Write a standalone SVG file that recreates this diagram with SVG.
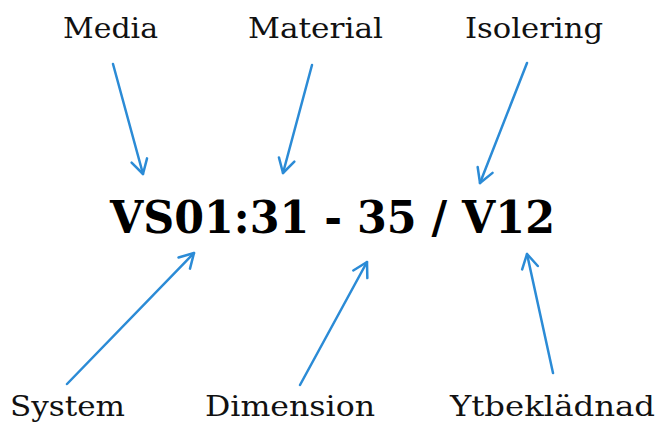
<svg xmlns="http://www.w3.org/2000/svg" width="660" height="426" viewBox="0 0 660 426">
<defs>
<marker id="ah" viewBox="0 0 20 20" refX="18" refY="10" markerWidth="20" markerHeight="20" markerUnits="userSpaceOnUse" orient="auto">
<path d="M4,2 L18,10 L4,18" fill="none" stroke="#2b8bd6" stroke-width="2.5" stroke-linecap="round" stroke-linejoin="round"/>
</marker>
<style>
.lbl{font-family:"DejaVu Serif","Liberation Serif",serif;font-size:28px;fill:#111}
.main{font-family:"DejaVu Serif","Liberation Serif",serif;font-size:44px;font-weight:bold;fill:#000}
.arr{stroke:#2b8bd6;stroke-width:2.5;fill:none;stroke-linecap:round;marker-end:url(#ah)}
</style>
</defs>
<rect width="660" height="426" fill="#fff"/>
<g id="code"><text class="main" x="110" y="233" textLength="445" lengthAdjust="spacingAndGlyphs">VS01:31 - 35 / V12</text></g>
<g id="media"><text class="lbl" x="63" y="38" textLength="95" lengthAdjust="spacingAndGlyphs">Media</text></g>
<g id="material"><text class="lbl" x="248" y="38" textLength="135" lengthAdjust="spacingAndGlyphs">Material</text></g>
<g id="isolering"><text class="lbl" x="465" y="38" textLength="138" lengthAdjust="spacingAndGlyphs">Isolering</text></g>
<g id="system"><text class="lbl" x="10" y="416" textLength="115" lengthAdjust="spacingAndGlyphs">System</text></g>
<g id="dimension"><text class="lbl" x="205" y="416" textLength="170" lengthAdjust="spacingAndGlyphs">Dimension</text></g>
<g id="ytbekladnad"><text class="lbl" x="450" y="416" textLength="205" lengthAdjust="spacingAndGlyphs">Ytbeklädnad</text></g>
<g id="connectors">
<line class="arr" x1="113" y1="64" x2="143" y2="174"/>
<line class="arr" x1="312" y1="65" x2="283" y2="173"/>
<line class="arr" x1="527" y1="63" x2="480" y2="183"/>
<line class="arr" x1="67" y1="384" x2="194" y2="253"/>
<line class="arr" x1="300" y1="385" x2="367" y2="262"/>
<line class="arr" x1="553" y1="373" x2="527" y2="254"/>
</g>
</svg>
